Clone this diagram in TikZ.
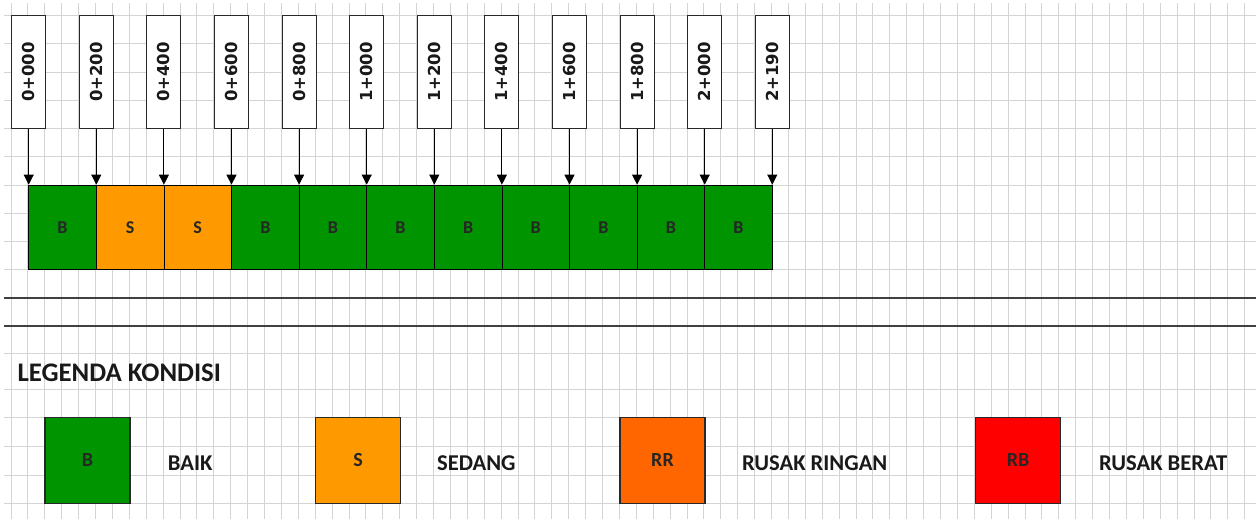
\documentclass[tikz,border=0pt]{standalone}
\usepackage{fontspec}
\setmainfont{Carlito}
\newfontfamily\labfont{DejaVu Sans}[BoldFont={DejaVu Sans Bold}]
\usetikzlibrary{arrows.meta}
\definecolor{bgreen}{RGB}{0,148,0}
\definecolor{sorange}{RGB}{255,153,0}
\definecolor{rrorange}{RGB}{255,102,0}
\definecolor{rbred}{RGB}{255,0,0}
\definecolor{gridgray}{RGB}{212,212,212}
\definecolor{darkline}{RGB}{64,64,64}
\definecolor{boxline}{RGB}{40,40,40}
\tikzset{
  gridline/.style={draw=gridgray, line width=0.9pt},
  sepline/.style={draw=darkline, line width=1.8pt},
  kmbox/.style={draw=boxline, fill=white, line width=0.9pt, minimum width=34pt, minimum height=112.6pt, inner sep=0pt,
    text=black!90, font=\labfont\bfseries\fontsize{16.5}{17}\selectfont},
  segbox/.style={draw=black, line width=0.8pt, minimum width=67.6pt, minimum height=84.3pt, inner sep=0pt,
    text=black!85, font=\bfseries\fontsize{18}{20}\selectfont},
  legbox/.style={draw=boxline, line width=1.2pt, minimum width=85pt, minimum height=86pt, inner sep=0pt,
    text=black!85, font=\bfseries\fontsize{20}{22}\selectfont},
  legtext/.style={anchor=base west, inner sep=0pt, text=black!90, font=\bfseries\fontsize{22.6}{24}\selectfont},
  titletext/.style={anchor=base west, inner sep=0pt, text=black!90, font=\bfseries\fontsize{26.8}{28}\selectfont},
  kmarrow/.style={draw=black, line width=0.9pt, -{Triangle[width=10pt,length=10pt]}}
}
\begin{document}
\begin{tikzpicture}[x=1pt,y=-1pt]
\useasboundingbox (0,0) rectangle (1256,519);
\fill[white] (0,0) rectangle (1256,519);
% grid
\foreach \k in {0,...,73}
  \draw[gridline] ({11+16.9*\k},3.5) -- ({11+16.9*\k},519);
\foreach \y in {15.7,43.7,72,100.3,128.3,156.7,185,213.3,241.5,269.7,353.3,389.3,417.3,446,475,503.3}
  \draw[gridline] (3.5,\y) -- (1256,\y);
% separator lines
\draw[sepline] (3.5,298) -- (1256,298);
\draw[sepline] (3.5,326) -- (1256,326);
% segments
\foreach \i/\c/\t in {1/bgreen/B,2/sorange/S,3/sorange/S,4/bgreen/B,5/bgreen/B,6/bgreen/B,7/bgreen/B,8/bgreen/B,9/bgreen/B,10/bgreen/B,11/bgreen/B}
  \node[segbox, fill=\c] (s\i) at ({28.7+67.6*(\i-0.5)},227.2) {\t};
% km labels and arrows
\foreach \k/\t in {0/0+000,1/0+200,2/0+400,3/0+600,4/0+800,5/1+000,6/1+200,7/1+400,8/1+600,9/1+800,10/2+000,11/2+190}{
  \node[kmbox] (l\k) at ({28.7+67.6*\k},72) {\rotatebox{90}{\t}};
  \draw[kmarrow] (l\k.south) -- (l\k.south |- s1.north);
}
% legend
\node[titletext] (title) at (17.3,381.7) {LEGENDA KONDISI};
\node[legbox, fill=bgreen] (lb) at (87.5,460.3) {B};
\node[legbox, fill=sorange] (ls) at (358.2,460.3) {S};
\node[legbox, fill=rrorange] (lrr) at (662.5,460.3) {RR};
\node[legbox, fill=rbred] (lrb) at (1018,460.3) {RB};
\node[legtext] (tb) at (167.7,470) {BAIK};
\node[legtext] (ts) at (437,470) {SEDANG};
\node[legtext] (trr) at (742,470) {RUSAK RINGAN};
\node[legtext] (trb) at (1099,470) {RUSAK BERAT};
\end{tikzpicture}
\end{document}
